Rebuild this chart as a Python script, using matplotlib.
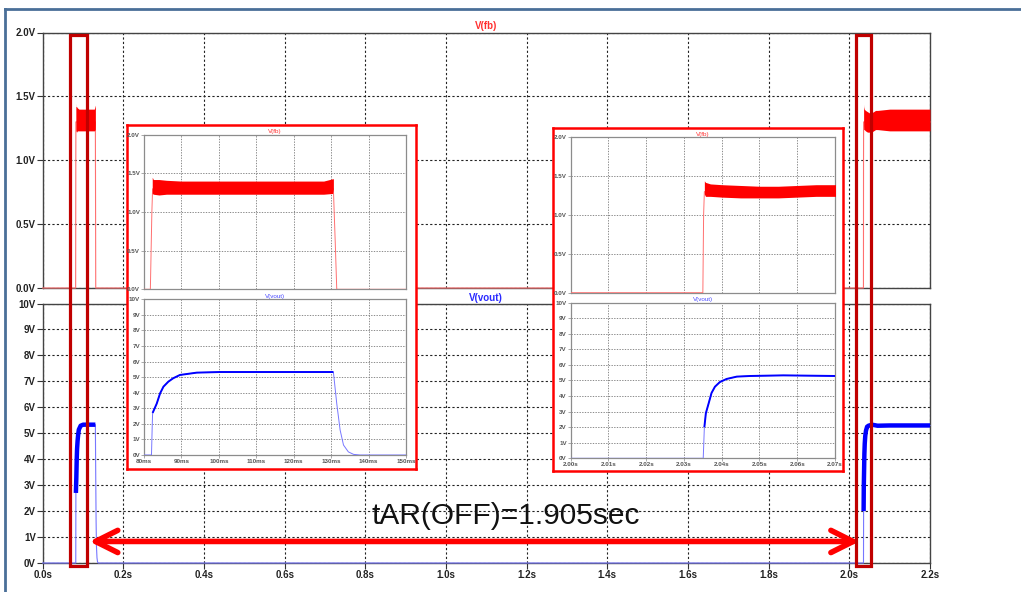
"""Auto-restart (hiccup) waveform: V(fb) and V(vout) with two zoomed insets."""
import matplotlib

matplotlib.use("Agg")
import matplotlib.pyplot as plt
import numpy as np
from matplotlib.lines import Line2D
from matplotlib.patches import Rectangle
from matplotlib.transforms import blended_transform_factory

plt.rcParams["font.family"] = ["Liberation Sans", "DejaVu Sans"]

# ---- data (time in seconds) ----
# V(vout): full trace, edges and baseline included
VOUT_T = [0.0, 0.0820, 0.0822, 0.0823, 0.0834, 0.0843, 0.0852, 0.0865, 0.0878, 0.0896,
          0.0914, 0.0941, 0.1003, 0.1100, 0.1200, 0.1306, 0.1315, 0.1324, 0.1333, 0.1346,
          0.1360, 0.1377, 2.0351, 2.0354, 2.0358, 2.0365, 2.0373, 2.0382, 2.0395, 2.0413,
          2.0440, 2.0475, 2.0563, 2.0700, 2.1000, 2.1500, 2.2000]
VOUT_V = [0.0, 0.0, 1.9, 2.7, 3.3, 3.96, 4.39, 4.71, 4.93, 5.14,
          5.2, 5.29, 5.33, 5.33, 5.33, 5.33, 3.3, 1.6, 0.64, 0.2,
          0.04, 0.0, 0.0, 2.0, 2.9, 3.5, 4.2, 4.6, 4.9, 5.1,
          5.25, 5.29, 5.33, 5.29, 5.3, 5.3, 5.3]
# switching windows where the output is regulating (drawn heavy)
VOUT_ON = [(0.0823, 0.1306), (2.0354, 2.2)]

# V(fb): thin trace (edges and baseline)
FB_T = [0.0, 0.0817, 0.0821, 0.0823, 0.1306, 0.1311, 0.1315, 2.0350, 2.0352, 2.0354, 2.2]
FB_V = [0.0, 0.0, 1.0, 1.3, 1.3, 0.6, 0.0, 0.0, 1.0, 1.3, 1.3]

# V(fb) ripple envelope, first burst
FB1_T = [0.0822, 0.0825, 0.0840, 0.0860, 0.0900, 0.1000, 0.1100, 0.1200, 0.1280, 0.1304, 0.1306]
FB1_HI = [1.45, 1.42, 1.42, 1.41, 1.40, 1.40, 1.40, 1.40, 1.40, 1.43, 1.43]
FB1_LO = [1.24, 1.23, 1.22, 1.23, 1.23, 1.23, 1.23, 1.23, 1.23, 1.24, 1.30]

# V(fb) ripple envelope, restart
FB2_T = [2.0354, 2.0357, 2.0370, 2.0400, 2.0450, 2.0500, 2.0550, 2.0600, 2.0650, 2.0700,
         2.1000, 2.1500, 2.2000]
FB2_HI = [1.44, 1.42, 1.40, 1.39, 1.38, 1.37, 1.37, 1.38, 1.39, 1.39, 1.40, 1.40, 1.40]
FB2_LO = [1.27, 1.24, 1.24, 1.23, 1.22, 1.22, 1.22, 1.23, 1.24, 1.24, 1.23, 1.23, 1.23]

MAIN_XTICKS = [0.0, 0.2, 0.4, 0.6, 0.8, 1.0, 1.2, 1.4, 1.6, 1.8, 2.0, 2.2]
FB_YTICKS = [0.0, 0.5, 1.0, 1.5, 2.0]
VOUT_YTICKS = [0, 1, 2, 3, 4, 5, 6, 7, 8, 9, 10]
INSET1_XTICKS = [80, 90, 100, 110, 120, 130, 140, 150]  # ms
INSET2_XTICKS = [2.00, 2.01, 2.02, 2.03, 2.04, 2.05, 2.06, 2.07]  # s

HIGHLIGHTS = [(0.0669, 0.1103), (2.0153, 2.0533)]
ARROW_T = (0.1156, 2.0248)
ARROW_V = 0.83
LABEL = "tAR(OFF)=1.905sec"

RED = "#ff0000"
RED_THIN = "#ff7070"
BLUE = "#0000ff"
BLUE_THIN = "#7777ff"

W, H = 1021, 592


def px_rect(left, top, right, bottom):
    return [left / W, 1 - bottom / H, (right - left) / W, (bottom - top) / H]


def bold_labels(ax):
    for lbl in ax.get_xticklabels() + ax.get_yticklabels():
        lbl.set_fontweight("bold")


def style_axes(ax, small=False):
    if small:
        ax.grid(True, color="#777777", linestyle=(0, (1.6, 1.6)), linewidth=0.6)
        for s in ax.spines.values():
            s.set_color("#8c8c8c")
            s.set_linewidth(0.9)
        ax.tick_params(length=2, width=0.5, color="#888888", labelsize=4.5,
                       pad=0.8, labelcolor="#555555")
    else:
        ax.grid(True, color="#222222", linestyle=(0, (2, 2)), linewidth=0.8)
        for s in ax.spines.values():
            s.set_color("#444444")
            s.set_linewidth(1.0)
        ax.tick_params(length=4, width=0.8, color="#333333", labelsize=7,
                       pad=1, labelcolor="#222222")
    bold_labels(ax)


vt = np.array(VOUT_T)
vv = np.array(VOUT_V)
on_mask = np.zeros(len(vt), dtype=bool)
for t0, t1 in VOUT_ON:
    on_mask |= (vt >= t0) & (vt <= t1)
vv_on = np.where(on_mask, vv, np.nan)


def draw_fb(ax, scale=1.0, lw=0.8, clip=True):
    ax.plot(np.array(FB_T) * scale, FB_V, color=RED_THIN, lw=lw, clip_on=clip, zorder=3)
    ax.fill_between(np.array(FB1_T) * scale, FB1_LO, FB1_HI, color=RED, lw=0, zorder=4)
    ax.fill_between(np.array(FB2_T) * scale, FB2_LO, FB2_HI, color=RED, lw=0, zorder=4)


def draw_vout(ax, scale=1.0, lw_on=3.0, lw=0.8, clip=True):
    ax.plot(vt * scale, vv, color=BLUE_THIN, lw=lw, clip_on=clip, zorder=3)
    ax.plot(vt * scale, vv_on, color=BLUE, lw=lw_on, zorder=4, solid_capstyle="butt")


fig = plt.figure(figsize=(W / 100, H / 100), dpi=100)

# ---- main plots ----
ax_fb = fig.add_axes(px_rect(42.7, 32.5, 930, 288))
ax_vo = fig.add_axes(px_rect(42.7, 303.5, 930, 563))

draw_fb(ax_fb, clip=False)
ax_fb.set_xlim(0, 2.2)
ax_fb.set_ylim(0, 2)
ax_fb.set_xticks(MAIN_XTICKS, [])
ax_fb.set_yticks(FB_YTICKS, [f"{v:.1f}V" for v in FB_YTICKS])
style_axes(ax_fb)
ax_fb.tick_params(axis="x", length=0)
ax_fb.set_title("V(fb)", color="#ff3030", fontsize=7, fontweight="bold", pad=2.5)

draw_vout(ax_vo, lw_on=3.2, clip=False)
ax_vo.set_xlim(0, 2.2)
ax_vo.set_ylim(0, 10)
ax_vo.set_xticks(MAIN_XTICKS, [f"{v:.1f}s" for v in MAIN_XTICKS])
ax_vo.set_yticks(VOUT_YTICKS, [f"{v}V" for v in VOUT_YTICKS])
style_axes(ax_vo)
ax_vo.set_title("V(vout)", color="#2a2aff", fontsize=7, fontweight="bold", pad=2.0)


# ---- insets ----
def add_inset(frame, top_rect, bot_rect, scale, xlim, xticks, xlabels):
    axf = fig.add_axes(px_rect(*frame))
    axf.set_xticks([])
    axf.set_yticks([])
    axf.set_facecolor("white")
    for s in axf.spines.values():
        s.set_color(RED)
        s.set_linewidth(1.8)

    a1 = fig.add_axes(px_rect(*top_rect))
    draw_fb(a1, scale=scale, lw=0.7)
    a1.set_xlim(*xlim)
    a1.set_ylim(0, 2)
    a1.set_xticks(xticks, [])
    a1.set_yticks(FB_YTICKS, [f"{v:.1f}V" for v in FB_YTICKS])
    style_axes(a1, small=True)
    a1.tick_params(axis="x", length=0)
    a1.set_title("V(fb)", color="#ff3030", fontsize=4.5, pad=1.2)

    a2 = fig.add_axes(px_rect(*bot_rect))
    draw_vout(a2, scale=scale, lw_on=1.4, lw=0.7)
    a2.set_xlim(*xlim)
    a2.set_ylim(0, 10)
    a2.set_xticks(xticks, xlabels)
    a2.set_yticks(VOUT_YTICKS, [f"{v}V" for v in VOUT_YTICKS])
    style_axes(a2, small=True)
    a2.set_title("V(vout)", color="#4a4aff", fontsize=4.5, pad=1.2)


add_inset((126.5, 125, 416, 468.5), (144, 134.7, 406, 289.3), (144, 299.3, 406, 455),
          1000.0, (80, 150), INSET1_XTICKS, [f"{v}ms" for v in INSET1_XTICKS])
add_inset((553.3, 128.3, 843.3, 471), (570.7, 137.3, 835, 292.7), (570.7, 302.7, 835, 458.3),
          1.0, (2.00, 2.07), INSET2_XTICKS, [f"{v:.2f}s" for v in INSET2_XTICKS])

# ---- annotations ----
blend = blended_transform_factory(ax_vo.transData, fig.transFigure)
y_lo, y_hi = 1 - 565.5 / H, 1 - 34.5 / H
for t0, t1 in HIGHLIGHTS:
    fig.add_artist(Rectangle((t0, y_lo), t1 - t0, y_hi - y_lo, transform=blend,
                             fill=False, ec="#c00000", lw=2.3, zorder=6))

ax_vo.annotate("", xy=(ARROW_T[0], ARROW_V), xytext=(ARROW_T[1], ARROW_V),
               arrowprops=dict(arrowstyle="<->,head_length=1.6,head_width=0.8",
                               color=RED, lw=4, shrinkA=0, shrinkB=0,
                               mutation_scale=10),
               annotation_clip=False, zorder=7)
ax_vo.text(np.mean(ARROW_T) + 0.078, 1.5, LABEL, fontsize=21.5, ha="center",
           va="baseline", color="#111111", zorder=7)

# slide frame
fig.add_artist(Line2D([4.7 / W, 1], [1 - 8.5 / H, 1 - 8.5 / H], color="#4a6f98", lw=2))
fig.add_artist(Line2D([4.7 / W, 4.7 / W], [0, 1 - 8.5 / H], color="#4a6f98", lw=2))

fig.savefig("out.png", dpi=100, facecolor="white")
